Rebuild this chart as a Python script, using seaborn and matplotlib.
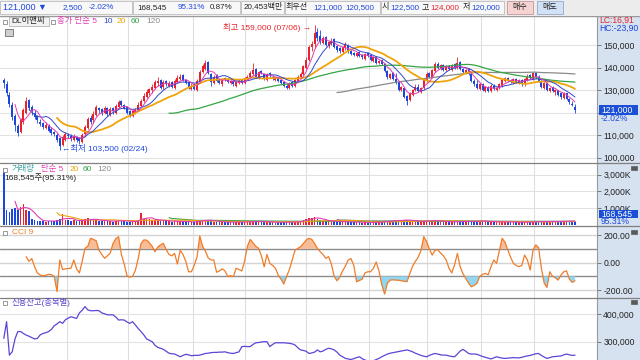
import numpy as np
import pandas as pd
import matplotlib
matplotlib.use("Agg")
import matplotlib.pyplot as plt
import seaborn as sns
from matplotlib.patches import Rectangle
from matplotlib.lines import Line2D
from matplotlib.transforms import blended_transform_factory, Bbox, TransformedBbox

# daily candles, prices in thousand won
opens = [134.5, 132.5, 128.0, 123.5, 118.5, 114.0, 111.5, 116.0, 120.0, 125.5,
         122.5, 120.0, 118.5, 116.0, 115.5, 113.0, 114.0, 112.5, 111.5, 110.0,
         108.5, 105.5, 108.0, 110.0, 109.5, 108.0, 109.0, 108.5, 107.0, 110.5, 113.0,
         117.5, 116.5, 119.0, 122.0, 121.5, 120.0, 122.0, 119.0, 122.0, 120.0,
         122.5, 125.0, 123.5, 122.5, 120.5, 118.5, 120.0, 121.0, 123.0, 125.0,
         127.0, 128.5, 130.0, 131.0, 133.0, 134.5, 131.5, 134.0, 132.0, 133.5, 131.0,
         133.5, 135.0, 136.5, 134.5, 133.5, 130.5, 132.5, 130.0, 133.5, 138.0,
         139.5, 142.5, 137.0, 133.0, 136.5, 134.5, 132.5, 135.5, 134.5, 133.0, 134.0,
         132.0, 133.0, 134.5, 133.0, 135.0, 136.0, 137.0, 139.5, 135.5, 138.5,
         137.0, 134.5, 137.5, 136.0, 134.5, 135.5, 134.5, 133.5, 132.0, 131.0,
         133.5, 132.0, 134.0, 136.0, 137.0, 140.0, 143.5, 149.0, 150.5, 156.0, 154.0,
         151.0, 153.5, 149.5, 151.0, 152.5, 149.5, 148.5, 147.0, 148.5, 150.0,
         147.5, 146.5, 145.0, 147.0, 145.5, 144.0, 146.5, 145.5, 143.0, 144.5,
         142.0, 143.5, 141.5, 138.5, 135.5, 137.5, 135.0, 133.5, 130.0, 131.0, 127.5,
         125.5, 128.0, 130.0, 131.5, 129.0, 131.0, 134.0, 137.5, 136.0, 138.5,
         141.5, 139.5, 141.0, 139.0, 140.5, 139.0, 141.5, 140.0, 142.5, 139.5,
         137.5, 139.5, 137.0, 134.0, 132.5, 130.5, 132.5, 129.5, 131.5, 129.5, 132.0,
         130.0, 131.0, 132.0, 134.0, 135.5, 134.5, 133.0, 135.0, 133.0, 134.5,
         132.5, 134.5, 136.5, 135.0, 137.5, 136.0, 134.0, 131.0, 133.0, 129.5,
         131.5, 129.0, 130.0, 128.5, 126.5, 128.5, 126.0, 124.0, 122.5]
highs = [135.5, 134.0, 129.0, 124.5, 119.5, 115.0, 117.5, 122.0, 127.0, 126.0,
         123.5, 121.0, 119.0, 117.0, 116.0, 116.0, 115.0, 113.5, 112.0, 111.0,
         109.0, 110.0, 111.5, 111.0, 110.5, 110.5, 109.5, 109.0, 111.0, 114.5, 118.0,
         119.0, 120.5, 123.5, 122.5, 122.0, 123.0, 122.5, 122.5, 122.5, 124.0,
         125.5, 125.5, 124.0, 123.0, 121.0, 121.5, 122.0, 124.5, 126.0, 128.5,
         130.5, 131.0, 132.5, 134.5, 136.0, 135.0, 134.5, 134.5, 134.0, 134.0, 135.0,
         136.5, 137.0, 137.0, 135.0, 134.0, 133.0, 133.0, 135.0, 139.0, 141.5,
         143.5, 143.0, 137.5, 136.5, 137.0, 135.0, 135.5, 136.0, 135.0, 134.5, 134.5,
         134.5, 135.0, 135.0, 136.0, 136.5, 138.5, 142.0, 140.0, 138.5, 139.0,
         137.5, 137.5, 138.0, 136.5, 136.0, 136.0, 135.0, 134.0, 132.5, 133.5,
         134.0, 135.0, 136.5, 138.0, 141.0, 144.5, 150.0, 152.0, 159.0, 157.5, 156.5,
         154.0, 154.0, 152.0, 153.0, 153.0, 150.0, 149.0, 149.5, 151.5, 150.5,
         148.0, 147.0, 147.0, 147.5, 146.0, 146.5, 147.0, 146.0, 145.0, 145.0,
         143.5, 144.0, 142.0, 139.0, 137.5, 138.0, 137.5, 134.0, 132.0, 131.5, 128.0,
         129.0, 130.5, 132.5, 132.5, 131.5, 135.0, 138.0, 138.0, 139.5, 142.5,
         142.5, 141.5, 141.5, 141.0, 141.0, 141.5, 142.0, 144.5, 143.0, 140.0,
         139.5, 140.0, 137.5, 135.0, 134.5, 133.0, 133.0, 132.0, 132.0, 132.5, 132.5,
         131.5, 133.0, 135.0, 136.0, 136.0, 135.0, 135.5, 135.5, 135.0, 135.0,
         135.5, 137.0, 137.0, 138.0, 138.0, 136.5, 134.5, 133.5, 133.5, 131.5,
         132.0, 130.5, 130.0, 129.0, 129.0, 128.5, 126.5, 125.0, 124.0]
lows = [131.0, 127.5, 122.5, 116.5, 112.0, 109.5, 111.0, 115.0, 119.5, 121.0,
        119.0, 117.0, 115.5, 114.0, 112.5, 112.5, 111.5, 110.0, 109.5, 107.0,
        103.5, 105.0, 107.5, 108.5, 107.5, 107.5, 107.0, 106.0, 106.5, 110.0, 112.5,
        115.0, 115.5, 118.5, 120.0, 119.0, 119.5, 118.5, 118.5, 119.5, 119.5,
        122.0, 123.0, 121.5, 119.5, 118.0, 118.0, 119.5, 120.5, 122.5, 124.5,
        126.5, 128.0, 128.5, 130.5, 132.0, 130.5, 130.5, 132.0, 131.5, 131.0, 130.5,
        133.0, 134.5, 134.0, 132.5, 130.5, 130.0, 130.0, 129.5, 133.0, 137.5,
        139.0, 137.0, 132.0, 132.5, 133.5, 132.5, 132.0, 134.0, 133.0, 132.5, 132.0,
        131.5, 132.5, 132.5, 132.5, 134.5, 135.5, 136.5, 135.5, 135.0, 137.0,
        134.5, 134.0, 136.0, 134.5, 134.0, 133.5, 132.5, 131.5, 130.5, 130.5,
        131.5, 131.5, 133.5, 135.5, 136.5, 139.5, 143.0, 147.5, 148.5, 152.0, 150.5,
        150.5, 149.5, 148.5, 150.0, 148.5, 147.0, 146.5, 146.5, 148.0, 146.5,
        145.5, 145.0, 144.5, 144.5, 144.0, 143.5, 144.5, 143.0, 142.5, 141.5,
        141.5, 141.0, 138.0, 135.0, 135.0, 134.5, 132.5, 129.5, 129.5, 126.5, 123.5,
        125.0, 127.5, 129.5, 129.0, 128.5, 130.5, 133.5, 135.5, 135.5, 138.0,
        139.5, 139.0, 138.5, 138.5, 139.0, 138.5, 139.5, 139.5, 139.0, 137.5,
        137.0, 136.5, 133.5, 132.0, 130.5, 130.0, 129.5, 129.0, 129.0, 129.0, 130.0,
        129.5, 130.5, 131.5, 133.5, 133.5, 133.0, 132.5, 133.0, 132.5, 132.0,
        132.0, 134.0, 135.0, 134.5, 135.5, 133.5, 131.0, 130.5, 129.5, 129.0,
        129.0, 128.0, 127.5, 126.0, 126.0, 125.5, 124.0, 123.0, 120.0]
closes = [133.0, 128.5, 124.0, 118.0, 114.5, 111.0, 116.5, 121.0, 125.0, 122.0,
          120.5, 118.0, 116.5, 115.0, 113.5, 114.5, 112.0, 111.0, 110.5, 108.0,
          105.0, 109.0, 110.5, 109.5, 108.5, 109.5, 108.0, 107.5, 110.0, 113.5, 117.0,
          116.0, 119.5, 122.5, 121.0, 120.0, 122.0, 119.5, 121.5, 120.5, 123.0,
          124.5, 123.5, 122.0, 120.0, 119.0, 120.5, 121.0, 123.5, 125.0, 127.5,
          129.0, 130.5, 131.5, 133.5, 134.0, 131.0, 133.5, 132.5, 133.0, 131.5, 134.0,
          135.5, 136.0, 134.5, 133.0, 131.0, 132.0, 130.5, 134.0, 138.0, 140.5,
          142.0, 137.5, 133.5, 136.0, 134.0, 133.0, 135.0, 134.5, 133.5, 134.0, 132.5,
          133.5, 134.0, 133.0, 135.5, 136.0, 137.5, 139.0, 136.0, 138.0, 137.5,
          135.0, 137.0, 136.5, 135.0, 135.5, 134.0, 133.0, 132.0, 131.0, 133.0,
          132.0, 134.5, 136.0, 137.0, 140.5, 143.5, 149.0, 150.5, 155.5, 153.0, 151.5,
          153.0, 150.0, 151.5, 152.0, 149.0, 148.0, 147.5, 149.0, 150.5, 147.0,
          146.0, 145.5, 146.5, 145.0, 144.5, 146.0, 145.0, 143.5, 144.5, 142.0,
          143.0, 141.5, 138.5, 136.0, 137.0, 135.0, 133.0, 130.0, 131.5, 127.0, 125.0,
          128.5, 130.0, 131.5, 129.5, 131.0, 134.5, 137.0, 136.0, 139.0, 141.5,
          140.0, 141.0, 139.0, 140.5, 139.5, 141.0, 140.0, 142.0, 139.5, 138.0,
          139.0, 137.0, 134.0, 132.5, 131.0, 132.5, 130.0, 131.5, 129.5, 132.0, 130.5,
          131.0, 132.5, 134.5, 135.5, 134.0, 133.5, 135.0, 133.5, 134.5, 132.5,
          135.0, 136.0, 135.5, 137.5, 136.0, 134.0, 131.5, 133.0, 130.0, 131.0,
          129.5, 130.0, 128.0, 127.0, 128.5, 126.0, 124.5, 123.5, 121.0]
# volume in thousand shares
volume_k = [3360, 900, 780, 950, 1000, 880, 1050, 1220, 900, 820,
            330, 260, 240, 210, 200, 180, 230, 190, 220, 260,
            330, 640, 300, 270, 240, 260, 220, 210, 250, 340, 380,
            260, 300, 290, 220, 200, 230, 190, 210, 180, 240,
            260, 210, 190, 170, 160, 180, 200, 280, 700, 360,
            330, 310, 300, 280, 250, 230, 220, 200, 190, 180, 210,
            200, 190, 170, 160, 150, 170, 160, 200, 260, 280,
            300, 240, 200, 180, 170, 150, 140, 150, 130, 140, 140,
            130, 150, 140, 170, 160, 190, 220, 180, 170, 160,
            150, 160, 140, 130, 120, 130, 140, 150, 160, 130,
            140, 170, 190, 220, 280, 350, 420, 400, 460, 320, 260,
            230, 210, 190, 180, 200, 170, 160, 150, 180, 160,
            150, 140, 130, 140, 120, 130, 120, 130, 140, 150,
            140, 160, 210, 240, 200, 230, 260, 280, 220, 300, 270,
            240, 200, 180, 170, 160, 210, 260, 220, 230, 250,
            200, 180, 170, 160, 150, 170, 160, 220, 190, 170,
            160, 180, 210, 220, 230, 190, 200, 170, 190, 160, 150,
            140, 150, 180, 170, 160, 140, 150, 130, 140, 130,
            150, 160, 140, 190, 170, 160, 200, 170, 190, 160,
            180, 190, 200, 190, 170, 220, 230, 240, 169]
# CCI(9), first value on day 8
cci_first = 8
cci_vals = [44, 10, 30, -30, -75, -90, -95, -92, -85, -88,
            -100, -210, 20, -50, -45, -42, -40, 20, -45, -75, 10,
            105, 120, 178, 170, 160, 90, 60, 32, 50, 70,
            140, 175, 190, 60, -10, -95, -105, -100, -55, 30,
            140, 166, 165, 145, 120, 80, 115, 130, 141, 95, 60,
            50, 68, -10, 90, 60, 10, -66, -66, -20, 40,
            195, 120, 85, 35, 20, 20, -70, -60, -45, -60,
            -100, -95, -102, -40, -50, -60, 10, 120, 170, 145, 120,
            105, 50, -30, 60, -5, -20, -40, -90, -120, -156,
            -100, -50, 20, 90, 105, 117, 140, 165, 178, 170, 140,
            105, 80, 60, 32, 44, -10, -100, -132, -105, -60,
            -25, 20, 30, -20, -139, -130, -120, -75, -66, -66,
            -40, 5, -60, -160, -229, -150, -127, -125, -127, -128, -132,
            -135, -139, -80, -25, 10, 40, 90, 190, 155, 100,
            55, 90, 95, 70, 50, 20, -40, -75, -15, 68,
            -30, -80, -115, -150, -176, -165, -150, -100, -85, -78, -88,
            -30, 20, -5, 90, 178, 150, 93, 40, -5, -20,
            -29, -20, 56, 20, -54, 93, 130, 110, -40, -150,
            -180, -66, -100, -110, -127, -90, -66, -60, -120, -144, -132]
# credit balance, thousand shares
credit_k = [312, 373, 251, 263, 310, 337, 337, 330, 324, 320,
            315, 310, 312, 325, 330, 333, 337, 345, 358, 365,
            373, 367, 380, 386, 391, 388, 385, 405, 415, 428, 416,
            413, 413, 414, 413, 405, 402, 398, 398, 398, 390,
            379, 380, 379, 372, 367, 373, 361, 348, 337, 325,
            310, 305, 300, 287, 279, 276, 272, 265, 258, 256, 255,
            250, 245, 250, 254, 252, 249, 250, 250, 251, 254,
            257, 258, 260, 261, 261, 262, 262, 263, 260, 258, 257,
            260, 263, 282, 283, 282, 282, 290, 296, 297, 299,
            300, 300, 282, 290, 296, 296, 296, 296, 295, 294,
            292, 288, 278, 270, 268, 265, 257, 259, 262, 270, 263,
            266, 272, 276, 274, 270, 262, 251, 245, 239, 237,
            235, 238, 242, 245, 238, 233, 230, 228, 230, 235,
            239, 245, 250, 255, 258, 260, 262, 264, 266, 268, 270,
            267, 263, 258, 254, 250, 247, 245, 250, 254, 257,
            255, 252, 251, 251, 248, 246, 245, 255, 266, 272,
            265, 257, 255, 255, 254, 250, 246, 243, 240, 237, 241,
            245, 242, 240, 239, 240, 241, 242, 241, 241, 243,
            246, 248, 250, 253, 256, 257, 250, 244, 239, 242,
            245, 246, 247, 248, 252, 255, 252, 250, 251]

month_starts = [22.5, 44.5, 67.5, 86, 108, 130.5, 151, 170.5, 189.5]
price_ticks = [100, 110, 120, 130, 140, 150]
price_labels = ["100,000", "110,000", "", "130,000", "140,000", "150,000"]
vol_ticks = [1000, 2000, 3000]
vol_labels = ["1,000K", "2,000K", "3,000K"]
cci_ticks = [-200, 0, 200]
cci_labels = ["-200.00", "0.00", "200.00"]
credit_ticks = [300, 400]
credit_labels = ["300,000", "400,000"]

n = len(closes)
assert len(opens) == n and len(highs) == n and len(lows) == n
assert len(volume_k) == n and len(credit_k) == n and len(cci_vals) == n - cci_first

sns.set_theme(style="white")
plt.rcParams["font.family"] = ["Liberation Sans", "Noto Sans CJK KR", "DejaVu Sans"]

RED = "#e8232b"
BLUE = "#1d47dc"
MAG = "#e23cb4"
MBLUE = "#3049c8"
ORG = "#f0a30a"
GRN = "#35a545"
GRY = "#8a8a8a"
TICK_FS = 6.2

df = pd.DataFrame({"x": np.arange(n), "open": opens, "high": highs, "low": lows,
                   "close": closes, "vol": volume_k, "credit": credit_k})
for w in (5, 10, 20, 60, 120):
    df[f"ma{w}"] = df["close"].rolling(w).mean()
for w in (5, 20, 60, 120):
    df[f"vma{w}"] = df["vol"].rolling(w).mean()
cci = np.full(n, np.nan)
cci[cci_first:] = cci_vals
df["cci"] = cci
up = df["close"] >= df["open"]
colors = np.where(up, RED, BLUE)

W, H = 640, 360
XLIM = (-1.357, 211.86)
fig = plt.figure(figsize=(6.4, 3.6), dpi=100)
fig.patch.set_facecolor("white")


def prect(x0, y0, x1, y1, **kw):
    r = Rectangle((x0 / W, 1 - y1 / H), (x1 - x0) / W, (y1 - y0) / H,
                  transform=fig.transFigure, **kw)
    fig.add_artist(r)
    return r


def ptext(x, y, s, color="#222222", size=6, ha="left", **kw):
    return fig.text(x / W, 1 - y / H, s, color=color, fontsize=size, ha=ha, va="center",
                    zorder=4, **kw)


def hline(y, color="#808080", lw=0.9):
    fig.add_artist(Line2D([0, 1], [1 - y / H, 1 - y / H], transform=fig.transFigure,
                          color=color, lw=lw))


def panel(y0, y1):
    ax = fig.add_axes([0, 1 - y1 / H, 597 / W, (y1 - y0) / H])
    ax.set_facecolor("white")
    for s in ("top", "left", "bottom"):
        ax.spines[s].set_visible(False)
    ax.spines["right"].set_color("#9a9a9a")
    ax.spines["right"].set_linewidth(0.8)
    ax.yaxis.tick_right()
    ax.tick_params(axis="y", length=3, width=0.6, color="#666666", labelsize=TICK_FS,
                   pad=1.5, labelcolor="#222222", direction="out")
    return ax


def finish(ax, ylim):
    ax.set_xlim(*XLIM)
    ax.set_ylim(*ylim)
    ax.set_xticks(month_starts)
    ax.tick_params(axis="x", length=0, labelbottom=False)
    ax.grid(True, axis="x", color="#dedede", lw=0.8)
    ax.set_axisbelow(True)
    ax.set_xlabel("")
    ax.set_ylabel("")


# right-hand scale background
prect(597, 16, 640, 360, fc="#d6e2ef", ec="none", zorder=-1)

# ---------- price panel ----------
ax_p = panel(16, 163)
ax_p.vlines(df["x"], df["low"], df["high"], colors=colors, lw=0.6)
ax_p.bar(df["x"], np.maximum((df["close"] - df["open"]).abs(), 0.15),
         bottom=np.minimum(df["open"], df["close"]), width=0.7, color=colors, lw=0)
for col, clr, lw in (("ma120", GRY, 0.9), ("ma60", GRN, 0.9), ("ma20", ORG, 1.3),
                     ("ma10", MBLUE, 0.7), ("ma5", MAG, 0.7)):
    sns.lineplot(data=df, x="x", y=col, ax=ax_p, color=clr, lw=lw)
ax_p.set_yticks(price_ticks)
ax_p.set_yticklabels(price_labels)
ax_p.grid(True, axis="y", color="#e2e2e2", lw=0.8)
finish(ax_p, (97.56, 162.9))

ax_p.text(109.7, 157.8, "최고 159,000 (07/06) →", color=RED, fontsize=6, ha="right", va="center")
ax_p.text(20.8, 104.1, "←최저 103,500 (02/24)", color=BLUE, fontsize=6, ha="left", va="center")

trp = blended_transform_factory(ax_p.transAxes, ax_p.transData)
ax_p.add_patch(Rectangle((599 / 597, 121 - 2.2), 39 / 597, 4.4, transform=trp,
                         clip_on=False, fc="#1a4fd6", ec="none", zorder=5))
ax_p.text(601 / 597, 121, "121,000", transform=trp, color="white", fontsize=TICK_FS,
          va="center", ha="left", zorder=6, clip_on=False)
ax_p.text(601 / 597, 117.3, "-2.02%", transform=trp, color=BLUE, fontsize=TICK_FS,
          va="center", ha="left", clip_on=False)

# ---------- volume panel ----------
ax_v = panel(163, 225.5)
ax_v.bar(df["x"], df["vol"], width=0.6, color=colors, lw=0)
for col, clr in (("vma120", GRY), ("vma60", GRN), ("vma20", ORG), ("vma5", MAG)):
    sns.lineplot(data=df, x="x", y=col, ax=ax_v, color=clr, lw=0.8)
ax_v.set_yticks(vol_ticks)
ax_v.set_yticklabels(vol_labels)
ax_v.grid(True, axis="y", color="#e2e2e2", lw=0.8)
finish(ax_v, (-60, 3694))
trv = blended_transform_factory(ax_v.transAxes, ax_v.transData)
ax_v.add_patch(Rectangle((599 / 597, 630 - 220), 39 / 597, 440, transform=trv,
                         clip_on=False, fc="#1a4fd6", ec="none", zorder=5))
ax_v.text(601 / 597, 630, "168,545", transform=trv, color="white", fontsize=TICK_FS,
          va="center", ha="left", zorder=6, clip_on=False)
t = ax_v.text(601 / 597, 170, "95.31%", transform=trv, color=BLUE, fontsize=TICK_FS,
              va="center", ha="left")
t.set_clip_on(True)
t.set_clip_box(TransformedBbox(Bbox([[597 / W, 1 - 225.5 / H], [1, 1 - 163 / H]]),
                               fig.transFigure))

# ---------- CCI panel ----------
ax_c = panel(225.5, 297.5)
for lv, clr in ((200, "#d4d4d4"), (0, "#d4d4d4"), (-200, "#d4d4d4"),
                (100, "#8c8c8c"), (-100, "#8c8c8c")):
    ax_c.axhline(lv, color=clr, lw=1.0, zorder=1)
ax_c.fill_between(df["x"], 100, df["cci"], where=df["cci"] > 100, interpolate=True,
                  color="#f7bc98", lw=0, zorder=2)
ax_c.fill_between(df["x"], -100, df["cci"], where=df["cci"] < -100, interpolate=True,
                  color="#93d6f0", lw=0, zorder=2)
sns.lineplot(data=df, x="x", y="cci", ax=ax_c, color="#f07c28", lw=0.9, zorder=3)
ax_c.set_yticks(cci_ticks)
ax_c.set_yticklabels(cci_labels)
finish(ax_c, (-254, 271.5))

# ---------- credit panel ----------
ax_r = panel(297.5, 360)
sns.lineplot(data=df, x="x", y="credit", ax=ax_r, color="#5b45d6", lw=0.9)
ax_r.set_yticks(credit_ticks)
ax_r.set_yticklabels(credit_labels)
ax_r.grid(True, axis="y", color="#e2e2e2", lw=0.8)
finish(ax_r, (233.2, 461.3))

# panel separators
hline(163)
hline(225.5)
hline(297.5)
hline(15.5, color="#9a9a9a", lw=1.0)

# panel legends
for yy in (21.5, 169.5, 232.5, 302.5):
    prect(3, yy - 2, 7, yy + 2, fc="white", ec="#8a8a8a", lw=0.6, zorder=2)
prect(9, 17, 49, 26, fc="#f2f2f2", ec="#b5b5b5", lw=0.6, zorder=2)
ptext(11, 21.5, "DL이앤씨", size=6)
prect(51, 19.5, 55, 23.5, fc="white", ec="#8a8a8a", lw=0.6, zorder=2)
ptext(57, 21.5, "종가 단순 5", color=MAG, size=6)
ptext(103, 21.5, "10", color=MBLUE, size=6)
ptext(117, 21.5, "20", color=ORG, size=6)
ptext(131, 21.5, "60", color=GRN, size=6)
ptext(146, 21.5, "120", color=GRY, size=6)
prect(5, 29, 13, 36, fc="#cfcfcf", ec="#6f6f6f", lw=0.6, zorder=2)

ptext(12, 169.5, "거래량", color="#3aa3a0", size=6)
ptext(41, 169.5, "단순 5", color=MAG, size=6)
ptext(70, 169.5, "20", color=ORG, size=6)
ptext(83, 169.5, "60", color=GRN, size=6)
ptext(97, 169.5, "120", color=GRY, size=6)
ptext(4, 178, "168,545주(95.31%)", size=6)
ptext(12, 232.5, "CCI 9", color="#f07c28", size=6)
ptext(12, 302.5, "신용잔고(종목별)", color="#5a46c8", size=6)

ptext(599, 20, "LC:16,91", color=RED, size=TICK_FS)
ptext(599, 28, "HC:-23,90", color=BLUE, size=TICK_FS)
for yy in (167.5, 231.5, 301.5):
    prect(631, yy - 2, 637, yy + 2, fc="#5a5a5a", ec="#5a5a5a", lw=0.5, zorder=2)

# ---------- header ----------
prect(0, 0, 640, 15, fc="#ececec", ec="none", zorder=-1)
for x0, x1 in ((0, 132), (133, 240), (241, 284), (285, 380), (381, 504)):
    prect(x0, 1, x1, 14, fc="#f8f8f8", ec="#bdbdbd", lw=0.6)
prect(507, 1, 533, 14, fc="#f6d2d2", ec="#c49a9a", lw=0.6)
prect(537, 1, 563, 14, fc="#d2e2f6", ec="#94a8c8", lw=0.6)
ptext(3, 7.5, "121,000 ▼", color=BLUE, size=6.5)
ptext(63, 7.5, "2,500", color=BLUE, size=5.8)
ptext(89, 7.5, "-2.02%", color=BLUE, size=5.8)
ptext(167, 7.5, "168,545", size=5.8, ha="right")
ptext(178, 7.5, "95.31%", color=BLUE, size=5.8)
ptext(210, 7.5, "0.87%", size=5.8)
ptext(244, 7.5, "20,453백만", size=5.8)
ptext(286, 7.5, "최우선", size=5.8)
ptext(313, 7.5, "121,000", color=BLUE, size=5.8)
ptext(345, 7.5, "120,500", color=BLUE, size=5.8)
ptext(382, 7.5, "시", size=5.8)
ptext(390, 7.5, "122,500", color=BLUE, size=5.8)
ptext(422, 7.5, "고", size=5.8)
ptext(430, 7.5, "124,000", color=RED, size=5.8)
ptext(463, 7.5, "저", size=5.8)
ptext(471, 7.5, "120,000", color=BLUE, size=5.8)
ptext(520, 7.5, "매수", size=5.8, ha="center")
ptext(550, 7.5, "매도", size=5.8, ha="center")

fig.savefig("out.png", dpi=100, facecolor=fig.get_facecolor())
